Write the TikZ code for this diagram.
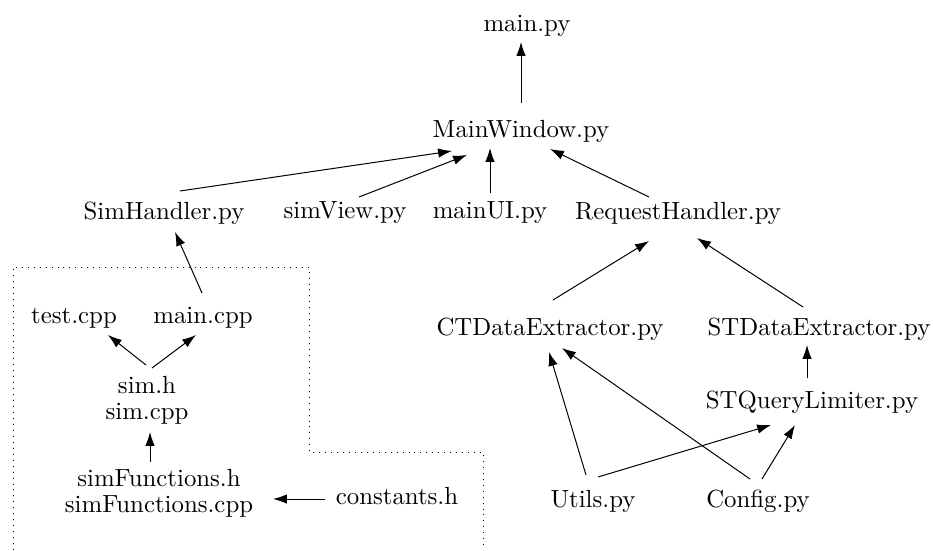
\documentclass[tikz,border=0pt]{standalone}
\usetikzlibrary{arrows.meta,calc}

\begin{document}
\begin{tikzpicture}[x=0.403pt, y=-0.403pt, >={Latex[length=5.6pt,width=3.8pt]},
  file/.style={inner sep=2pt, align=center, font=\fontsize{10}{10.5}\selectfont},
  dep/.style={->}]

  \useasboundingbox (0,0) rectangle (933,550);

  % --- python side ---
  \node[file] (mainpy)     at (527, 26)  {main.py};
  \node[file] (mainwindow) at (521, 131) {MainWindow.py};
  \node[file] (simhandler) at (164, 213) {SimHandler.py};
  \node[file] (simview)    at (345, 213) {simView.py};
  \node[file] (mainui)     at (490, 213) {mainUI.py};
  \node[file] (reqhandler) at (678, 213) {RequestHandler.py};

  % --- c++ part (dotted frame) ---
  \draw[dotted] (13, 550) -- (13, 267) -- (309, 267) -- (309, 452)
    -- (483, 452) -- (483, 550);
  \node[file] (testcpp)   at (74, 318)  {test.cpp};
  \node[file] (maincpp)   at (203, 318) {main.cpp};
  \node[file] (sim)       at (147, 400) {sim.h\\sim.cpp};
  \node[file] (simfunc)   at (159, 493) {simFunctions.h\\simFunctions.cpp};
  \node[file] (constants) at (397, 496) {constants.h};

  % --- data extractors ---
  \node[file] (ctextract) at (550, 329) {CTDataExtractor.py};
  \node[file] (stextract) at (819, 329) {STDataExtractor.py};
  \node[file] (stlimiter) at (812, 402) {STQueryLimiter.py};
  \node[file] (utils)     at (593, 501) {Utils.py};
  \node[file] (config)    at (758, 501) {Config.py};

  % --- dependencies ---
  \draw[dep] ($(mainwindow)+(0,-28)$) -- ($(mainpy)+(-6,16)$);
  \draw[dep] ($(simhandler)+(16,-22)$) -- ($(mainwindow)+(-69,20)$);
  \draw[dep] ($(simview)+(14,-16)$) -- ($(mainwindow)+(-54,24)$);
  \draw[dep] ($(mainui)+(0,-20)$) -- ($(mainwindow)+(-31,17)$);
  \draw[dep] ($(reqhandler)+(-29,-16)$) -- ($(mainwindow)+(29,18)$);
  \draw[dep] ($(maincpp)+(-1,-25)$) -- ($(simhandler)+(11,19)$);
  \draw[dep] ($(sim)+(-1,-35)$) -- ($(testcpp)+(34,17)$);
  \draw[dep] ($(sim)+(5,-32)$) -- ($(maincpp)+(-7,17)$);
  \draw[dep] ($(simfunc)+(-9,-31)$) -- ($(sim)+(3,32)$);
  \draw[dep] ($(constants)+(-72,3)$) -- ($(simfunc)+(114,6)$);
  \draw[dep] ($(ctextract)+(3,-29)$) -- ($(reqhandler)+(-29,28)$);
  \draw[dep] ($(stextract)+(-16,-22)$) -- ($(reqhandler)+(19,25)$);
  \draw[dep] ($(stlimiter)+(-5,-24)$) -- ($(stextract)+(-12,16)$);
  \draw[dep] ($(utils)+(-7,-26)$) -- ($(ctextract)+(-1,23)$);
  \draw[dep] ($(config)+(-8,-22)$) -- ($(ctextract)+(12,19)$);
  \draw[dep] ($(utils)+(5,-24)$) -- ($(stlimiter)+(-41,23)$);
  \draw[dep] ($(config)+(4,-22)$) -- ($(stlimiter)+(-17,23)$);

\end{tikzpicture}
\end{document}
